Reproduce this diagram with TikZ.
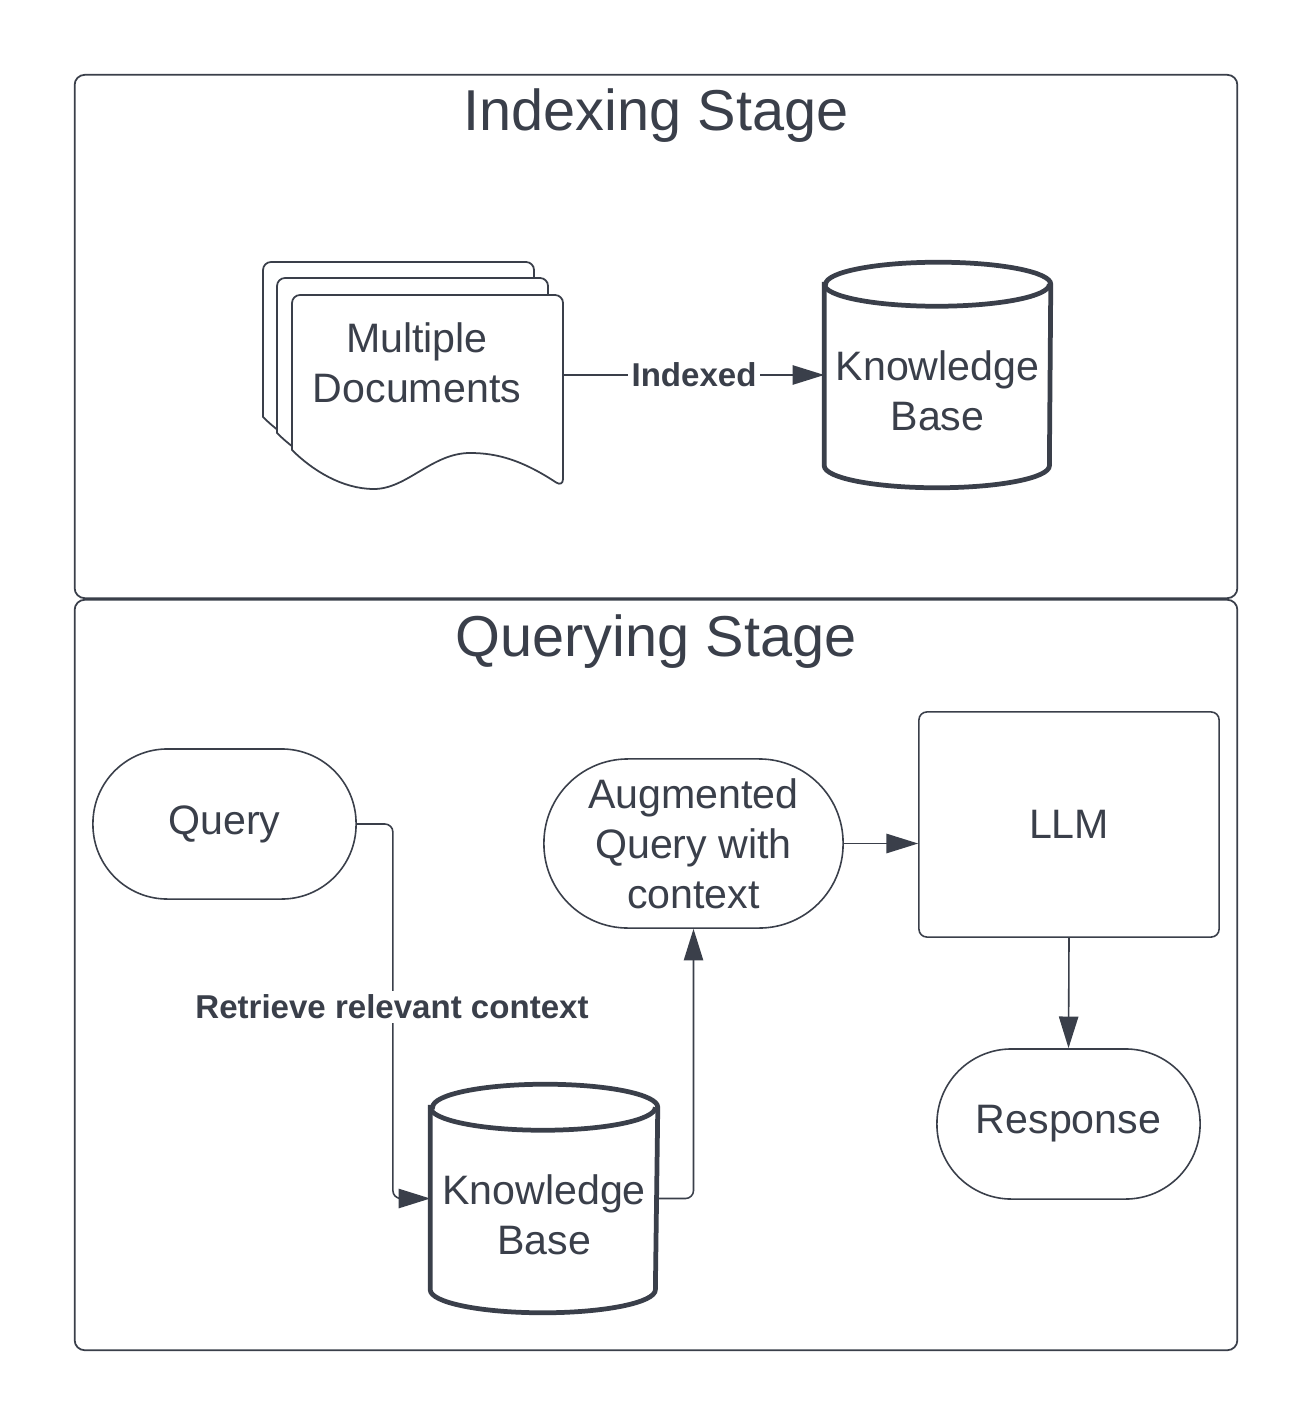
\documentclass[tikz,border=0pt]{standalone}
\usepackage{fontspec}
\setmainfont{Liberation Sans}
\usepackage{tikz}
\usetikzlibrary{positioning,arrows.meta,calc}
\definecolor{ink}{HTML}{3A3F4A}
\tikzset{
  stagebox/.style ={draw=ink, line width=0.5pt, rounded corners=0.1cm, inner sep=0pt},
  stagetitle/.style={text=ink, font=\fontsize{16.4}{19}\selectfont, anchor=base},
  boxtext/.style  ={text=ink, align=center, font=\fontsize{11.7}{14.2}\selectfont},
  pill/.style     ={boxtext, draw=ink, line width=0.45pt, inner sep=0pt},
  llmbox/.style   ={pill, rounded corners=0.08cm},
  frame/.style    ={inner sep=0pt},
  % thick outline of the knowledge-base drums
  cyl/.style      ={draw=ink, line width=1.35pt},
  page/.style     ={draw=ink, line width=0.5pt, fill=white},
  flow/.style     ={draw=ink, line width=0.45pt, rounded corners=0.08cm,
                    -{Triangle[length=9pt,width=5.5pt]}},
  edgelab/.style  ={fill=white, text=ink, inner sep=1pt,
                    font=\bfseries\fontsize{9.4}{11}\selectfont},
}
\def\pagelist{263/262, 277/278, 292/295}
\newcommand{\docpage}[1]{% #1 = top-left corner of one sheet
  \begin{scope}[shift={#1}]
    \draw[page] (0,155) [rounded corners=0.08cm] -- (0,0) -- (271,0) -- (271,192)
      [sharp corners] .. controls (230,165) and (205,158) .. (178,158)
      .. controls (140,158) and (115,194) .. (82,194)
      .. controls (50,194) and (20,175) .. (0,155) -- cycle;
  \end{scope}}
\newcommand{\kbdrum}[2]{% #1 = frame node, #2 = ellipse y radius (cm)
  \draw[cyl] ($(#1.north west)+(0,#2*100)$) -- ($(#1.south west)-(0,#2*100)$)
    arc[start angle=180,end angle=360,x radius=1.125cm,y radius=#2 cm]
    -- ($(#1.north east)+(0,#2*100)$)
    arc[start angle=0,end angle=180,x radius=1.125cm,y radius=#2 cm] -- cycle;
  \draw[cyl] ($(#1.north west)+(0,#2*100)$)
    arc[start angle=180,end angle=360,x radius=1.125cm,y radius=#2 cm];}

\begin{document}
\begin{tikzpicture}[x=0.01cm,y=-0.01cm]
\useasboundingbox (0,0) rectangle (1313,1425);
\fill[white] (0,0) rectangle (1313,1425);

% indexing stage
\node[stagebox, minimum width=11.62cm, minimum height=5.23cm] (idxbox) at (656,336.5) {};
\node[stagetitle] (idxtitle) at (656,131) {Indexing Stage};
\foreach \px/\py in \pagelist {\docpage{(\px,\py)}}
\node[frame, minimum width=2.71cm, minimum height=1.92cm] (docs) at (427.5,391) {};
\node[boxtext] (docstext) at (417,363) {Multiple\\Documents};
\node[frame, minimum width=2.25cm, minimum height=2.24cm] (kbI) at (937.5,375) {};
\kbdrum{kbI}{0.22}
\node[boxtext] (kbItext) at (937.5,391) {Knowledge\\Base};
\draw[flow] (docs.east |- kbI) -- node[edgelab] (idxlab) {Indexed} (kbI.west);

% querying stage
\node[stagebox, minimum width=11.62cm, minimum height=7.50cm] (qrybox) at (656,975) {};
\node[stagetitle] (qrytitle) at (656,656) {Querying Stage};
\node[pill, minimum width=2.63cm, minimum height=1.50cm, rounded corners=0.745cm]
  (query) at (224.5,824) {Query};
\node[pill, minimum width=2.99cm, minimum height=1.69cm, rounded corners=0.84cm]
  (aug) at (693.5,843.5) {Augmented\\Query with\\context};
\node[llmbox, minimum width=3.00cm, minimum height=2.25cm] (llm) at (1069,824.5) {LLM};
\node[pill, minimum width=2.63cm, minimum height=1.50cm, rounded corners=0.745cm]
  (resp) at (1068.5,1124) {Response};
\node[frame, minimum width=2.26cm, minimum height=2.27cm] (kbQ) at (544,1198.5) {};
\kbdrum{kbQ}{0.23}
\node[boxtext] (kbQtext) at (544,1215) {Knowledge\\Base};

\draw[flow] (query.east) -- ++(36,0) |- (kbQ.west);
\node[edgelab] (retlab) at (392,1007) {Retrieve relevant context};
\draw[flow] (kbQ.east) -| (aug.south);
\draw[flow] (aug.east) -- (aug.east -| llm.west);
\draw[flow] (llm.south) -- (resp.north);
\end{tikzpicture}
\end{document}
